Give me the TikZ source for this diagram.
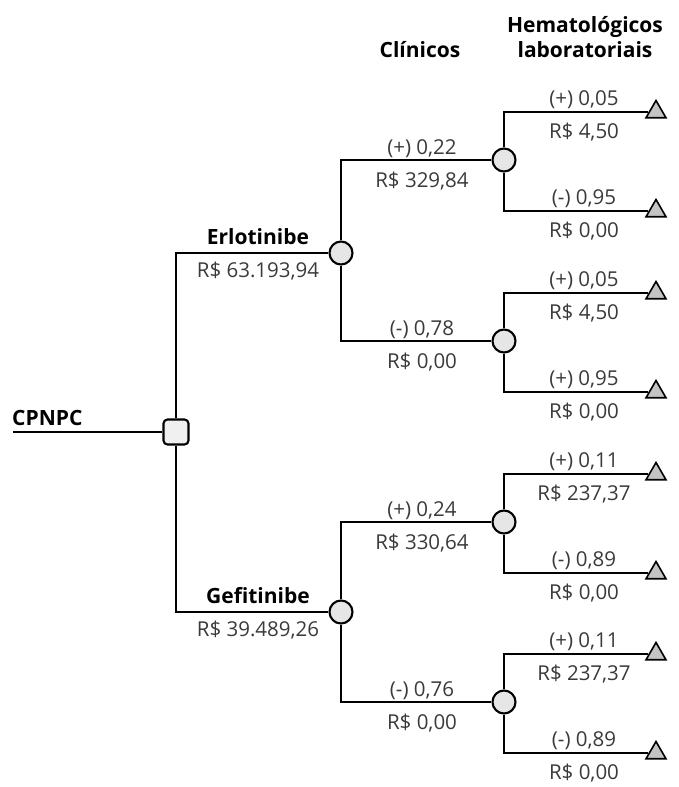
\documentclass[tikz,border=0pt]{standalone}
\usepackage{fontspec}
\setmainfont{Open Sans}
\usetikzlibrary{shapes.geometric}
\definecolor{chancefill}{HTML}{E6E6E6}
\definecolor{leaffill}{HTML}{C4C4C4}
\definecolor{decfill}{HTML}{F0F0F0}
\definecolor{labelgray}{HTML}{3A3A3A}
\tikzset{
  edge/.style={line width=2.1pt, black},
  decision/.style={draw, line width=2.1pt, rectangle, rounded corners=4pt,
    minimum size=25pt, inner sep=0pt, fill=decfill},
  chance/.style={draw, line width=2.1pt, circle, minimum size=23pt,
    inner sep=0pt, fill=chancefill},
  leaf/.style={draw, line width=1.6pt, regular polygon, regular polygon sides=3,
    minimum size=23pt, inner sep=0pt, fill=leaffill},
  lbl/.style={anchor=base, inner sep=0pt, text=labelgray,
    font=\fontsize{20.5}{24}\selectfont},
  head/.style={anchor=base, inner sep=0pt, text=black,
    font=\fontsize{21}{25}\selectfont\bfseries},
}
\begin{document}
\begin{tikzpicture}[x=1pt, y=-1pt]
\useasboundingbox (0,0) rectangle (678,787);

% column headings
\node[head] (hclin) at (420,57) {Clínicos};
\node[head] (hhem1) at (585,32) {Hematológicos};
\node[head] (hhem2) at (585,57) {laboratoriais};

% root
\coordinate (root) at (13,432);
\node[head, anchor=base west] (cpnpc) at (12,425) {CPNPC};

% tree nodes
\node[decision] (sq) at (176,432) {};
\node[chance] (E) at (341,253) {};
\node[chance] (G) at (341,612) {};
\node[chance] (c1) at (504,160) {};
\node[chance] (c2) at (504,341) {};
\node[chance] (c3) at (504,522) {};
\node[chance] (c4) at (504,702) {};
\foreach \n/\y in {t1/111, t2/210, t3/292, t4/391, t5/473, t6/572, t7/653, t8/752}
  \node[leaf] (\n) at (656,\y+1) {};

% connectors
\draw[edge] (root) -- (sq.west);
\draw[edge] (sq.north) |- (E.west);
\draw[edge] (sq.south) |- (G.west);
\draw[edge] (E.north) |- (c1.west);
\draw[edge] (E.south) |- (c2.west);
\draw[edge] (G.north) |- (c3.west);
\draw[edge] (G.south) |- (c4.west);
\draw[edge] (c1.north) |- (t1.west);
\draw[edge] (c1.south) |- (t2.west);
\draw[edge] (c2.north) |- (t3.west);
\draw[edge] (c2.south) |- (t4.west);
\draw[edge] (c3.north) |- (t5.west);
\draw[edge] (c3.south) |- (t6.west);
\draw[edge] (c4.north) |- (t7.west);
\draw[edge] (c4.south) |- (t8.west);

% treatment labels
\node[head] (lE) at (258,244) {Erlotinibe};
\node[lbl] (cE) at (258,277) {R\$ 63.193,94};
\node[head] (lG) at (258,603) {Gefitinibe};
\node[lbl] (cG) at (258,636) {R\$ 39.489,26};

% clinical branches
\node[lbl] (p1) at (422,154) {(+) 0,22};
\node[lbl] (k1) at (422,187) {R\$ 329,84};
\node[lbl] (p2) at (422,335) {(-) 0,78};
\node[lbl] (k2) at (422,368) {R\$ 0,00};
\node[lbl] (p3) at (422,516) {(+) 0,24};
\node[lbl] (k3) at (422,549) {R\$ 330,64};
\node[lbl] (p4) at (422,696) {(-) 0,76};
\node[lbl] (k4) at (422,729) {R\$ 0,00};

% laboratory branches
\foreach \n/\y/\p/\c in {
  1/111/(+) 0{,}05/R\$ 4{,}50,
  2/210/(-) 0{,}95/R\$ 0{,}00,
  3/292/(+) 0{,}05/R\$ 4{,}50,
  4/391/(+) 0{,}95/R\$ 0{,}00,
  5/473/(+) 0{,}11/R\$ 237{,}37,
  6/572/(-) 0{,}89/R\$ 0{,}00,
  7/653/(+) 0{,}11/R\$ 237{,}37,
  8/752/(-) 0{,}89/R\$ 0{,}00} {
  \node[lbl] (lp\n) at (584,\y-6) {\p};
  \node[lbl] (lc\n) at (584,\y+27) {\c};
}
\end{tikzpicture}
\end{document}
